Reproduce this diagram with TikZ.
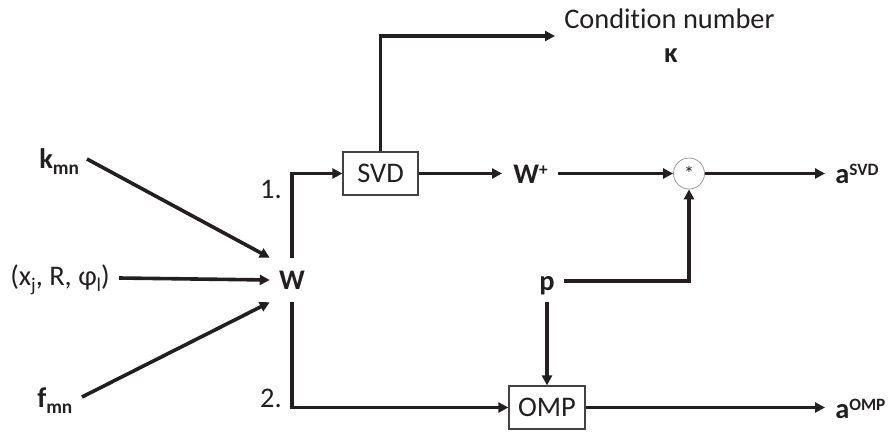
\documentclass[tikz,border=0pt]{standalone}
\usepackage{fontspec}
\setmainfont{Carlito}[Ligatures=NoCommon]
\usetikzlibrary{arrows.meta,calc}
\definecolor{ink}{HTML}{231F20}
\newcommand\mysub[1]{\raisebox{-4.5pt}{\fontsize{14.5}{14.5}\selectfont #1}}
\newcommand\mysup[1]{\raisebox{6pt}{\fontsize{13}{13}\selectfont #1}}
\begin{document}
\begin{tikzpicture}[x=0.75pt,y=-0.75pt,
  every node/.style={font=\fontsize{21.3}{24}\selectfont, text=ink, inner sep=0pt},
  arr/.style={draw=ink, line width=2.7pt, -{Triangle[length=7.5pt,width=7.5pt]}},
  blk/.style={draw=ink!85, line width=0.9pt, minimum height=32.25pt},
  lbl/.style={anchor=base west},
  mulc/.style={circle, draw=black!40, line width=0.6pt, minimum size=23.25pt, font=\fontsize{15}{15}\selectfont}]
\useasboundingbox (0,0) rectangle (889,432);
% input labels
\node[lbl] (k) at (39,168) {\textbf{k\mysub{mn}}};
\node[lbl] (x) at (10,285) {(x\mysub{j}, R, φ\mysub{l})};
\node[lbl] (f) at (37,407) {\textbf{f\mysub{mn}}};
\node[minimum size=33pt] (W) at (292,280) {\textbf{W}};
% blocks
\node[blk, minimum width=56.25pt] (SVD) at (380.5,173.5) {SVD};
\node[blk, minimum width=57pt] (OMP) at (547,407.5) {OMP};
\node[mulc] (mul) at (689,173.5) {\raisebox{-3pt}{*}};
% other labels
\node[anchor=base east] (one) at (282,198) {1.};
\node[anchor=base east] (two) at (282,407) {2.};
\node[lbl] (cond) at (564,28) {Condition number};
\node[anchor=base] (kappa) at (671,62) {\textbf{κ}};
\node[lbl] (Wp) at (513,183) {\textbf{W\mysup{+}}};
\node[anchor=base] (p) at (547,290) {\textbf{p}};
\node[lbl] (aS) at (835,183) {\textbf{a\mysup{SVD}}};
\node[lbl] (aO) at (835,418) {\textbf{a\mysup{OMP}}};
\coordinate (cn) at (555,36);
% connectors
\draw[arr] ($(k.base west)+(48,-9)$) -- (W.north west);
\draw[arr] ($(x.base west)+(109,-7)$) -- (W.west);
\draw[arr] ($(f.base west)+(45,-10)$) -- (W.south west);
\draw[arr] (W.north) |- (SVD.west);
\draw[arr] (W.south) |- (OMP.west);
\draw[arr] (SVD.north) |- (cn);
\draw[arr] (SVD.east) -- ($(SVD.east -| Wp.west)+(-11,0)$);
\draw[arr] ($(SVD.east -| Wp.east)+(10,0)$) -- (mul.west);
\draw[arr] (mul.east) -- ($(mul.east -| aS.west)+(-10,0)$);
\draw[arr] ($(p.base)+(17,-9)$) -| (mul.south);
\draw[arr] ($(p.base)+(0,12)$) -- (OMP.north);
\draw[arr] (OMP.east) -- ($(OMP.east -| aO.west)+(-10,0)$);
\end{tikzpicture}
\end{document}
